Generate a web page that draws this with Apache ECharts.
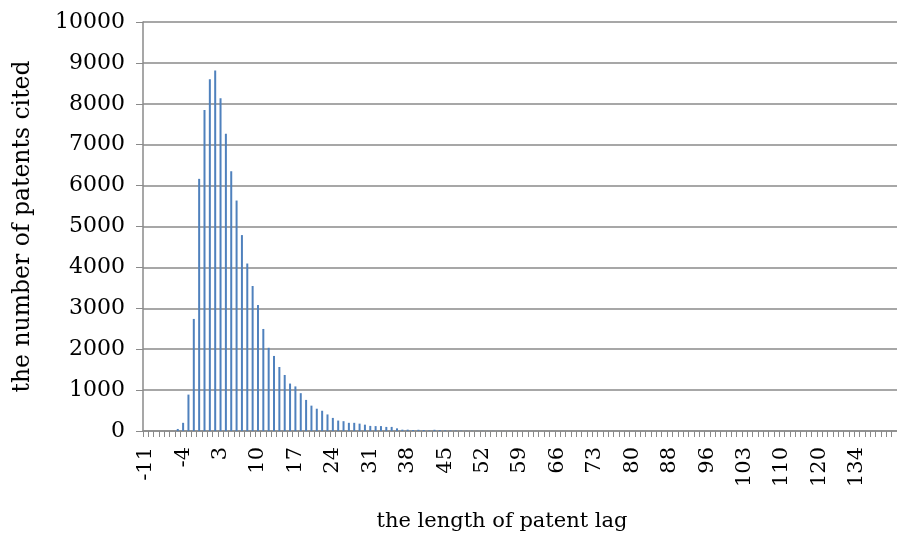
<!DOCTYPE html>
<html>
<head>
<meta charset="utf-8">
<script src="https://cdn.jsdelivr.net/npm/echarts@6/dist/echarts.min.js"></script>
<style>
  html, body { margin: 0; padding: 0; background: #fff; }
  #chart { width: 897px; height: 537px; }
</style>
</head>
<body>
<div id="chart"></div>
<script>
// Patent lag (years) — category order as tabulated
const lagYears = [
  -11, -10, -9, -8, -7, -6, -5, -4, -3, -2, -1, 0, 1, 2, 3, 4, 5, 6, 7, 8,
  9, 10, 11, 12, 13, 14, 15, 16, 17, 18, 19, 20, 21, 22, 23, 24, 25, 26, 27, 28,
  29, 30, 31, 32, 33, 34, 35, 36, 37, 38, 39, 40, 41, 42, 43, 44, 45, 46, 47, 48,
  49, 50, 51, 52, 53, 54, 55, 56, 57, 58, 59, 60, 61, 62, 63, 64, 65, 66, 67, 68,
  69, 70, 71, 72, 73, 74, 75, 76, 77, 78, 79, 80,
  81, 82, 83, 84, 85, 87, 88,
  89, 90, 91, 92, 94, 95, 96,
  97, 98, 99, 100, 101, 102, 103,
  104, 105, 106, 107, 108, 109, 110,
  111, 112, 114, 115, 117, 119, 120,
  121, 123, 126, 128, 130, 132, 134,
  136, 139, 141, 145, 150, 158, 170
];

// Number of cited patents for each lag
const citedCounts = [
  0, 0, 0, 0, 0, 0, 50, 200, 890, 2740,
  6165, 7850, 8600, 8815, 8135, 7265, 6350, 5635, 4790, 4095,
  3545, 3080, 2495, 2035, 1835, 1565, 1370, 1160, 1090, 925,
  760, 620, 545, 495, 405, 320, 255, 240, 200, 200,
  180, 155, 125, 120, 120, 100, 100, 65, 33, 33,
  25, 30, 25, 12, 30, 22, 15, 12, 10, 8,
  6, 5, 4, 4, 3, 3, 2, 2, 2, 1,
  1, 1, 1, 1, 1, 0, 1, 0, 1, 0,
  0, 1, 0, 0, 1, 0, 0, 0, 1, 0,
  0, 0,
  0, 1, 0, 0, 0, 0, 0,
  0, 0, 1, 0, 0, 0, 0,
  0, 0, 0, 0, 0, 0, 0,
  0, 0, 0, 0, 0, 0, 0,
  0, 0, 0, 0, 0, 0, 0,
  0, 0, 0, 0, 0, 0, 0,
  0, 0, 0, 0, 0, 0, 0
];

const yTicks = { min: 0, max: 10000, step: 1000 };

const FONT = 'DejaVu Serif';
const GRID_GREY = '#8a8a8a';

const chart = echarts.init(document.getElementById('chart'), null, { renderer: 'canvas' });

chart.setOption({
  animation: false,
  backgroundColor: '#ffffff',
  grid: { left: 143, top: 22, right: 0, bottom: 104, containLabel: false },
  xAxis: {
    type: 'category',
    data: lagYears.map(String),
    boundaryGap: true,
    name: 'the length of patent lag',
    nameLocation: 'middle',
    nameGap: 80,
    nameTextStyle: { fontFamily: FONT, fontSize: 21, color: '#000', padding: [0, 36, 0, 0] },
    axisLine: { show: true, lineStyle: { color: GRID_GREY, width: 1.5 } },
    axisTick: { show: true, interval: 0, length: 6, lineStyle: { color: GRID_GREY, width: 1 } },
    axisLabel: {
      interval: (i) => i % 7 === 0 && i < 140,
      rotate: 90,
      margin: 16,
      fontFamily: FONT,
      fontSize: 21,
      color: '#000'
    },
    splitLine: { show: false }
  },
  yAxis: {
    type: 'value',
    min: yTicks.min,
    max: yTicks.max,
    interval: yTicks.step,
    name: 'the number of patents cited',
    nameLocation: 'middle',
    nameGap: 108,
    nameRotate: 90,
    nameTextStyle: { fontFamily: FONT, fontSize: 23.5, color: '#000' },
    axisLine: { show: true, lineStyle: { color: GRID_GREY, width: 1.5 } },
    axisTick: { show: true, inside: false, length: 7, lineStyle: { color: GRID_GREY, width: 1 } },
    axisLabel: {
      margin: 18,
      fontFamily: FONT,
      fontSize: 22,
      color: '#000',
      formatter: (v) => String(v)
    },
    splitLine: { show: true, lineStyle: { color: GRID_GREY, width: 1.5 } }
  },
  series: [{
    type: 'bar',
    data: citedCounts,
    barWidth: 2,
    itemStyle: { color: '#4f81bd' }
  }]
});
</script>
</body>
</html>
